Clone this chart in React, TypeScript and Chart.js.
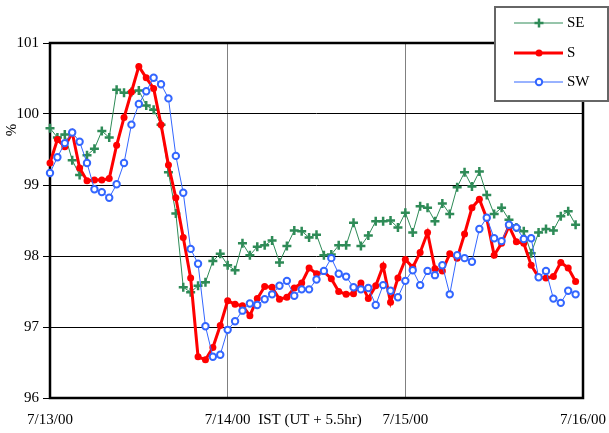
import { useEffect, useRef } from 'react';
import { Chart, registerables } from 'chart.js';

Chart.register(...registerables);

const DATE_LABELS = ['7/13/00', '7/14/00', '7/15/00', '7/16/00'];
const X_TITLE = 'IST (UT + 5.5hr)';
const Y_TITLE = '%';
const Y_TICKS = [96, 97, 98, 99, 100, 101];
const SERIES_NAMES = ['SE', 'S', 'SW'];

// hourly values, hour 0 = 7/13/00 00:00
const SE = [
  99.80, 99.67, 99.71, 99.35, 99.14, 99.42, 99.51, 99.76, 99.67, 100.34,
  100.30, 100.31, 100.33, 100.12, 100.06, 99.85, 99.18, 98.60, 97.56, 97.49,
  97.58, 97.63, 97.93, 98.03, 97.87, 97.80, 98.18, 98.01, 98.13, 98.15,
  98.22, 97.91, 98.14, 98.36, 98.35, 98.26, 98.30, 98.01, 98.02, 98.15,
  98.15, 98.47, 98.14, 98.29, 98.49, 98.49, 98.50, 98.40, 98.61, 98.33,
  98.70, 98.68, 98.49, 98.74, 98.59, 98.97, 99.18, 98.98, 99.19, 98.86,
  98.59, 98.68, 98.51, 98.40, 98.35, 98.04, 98.33, 98.38, 98.36, 98.56,
  98.63, 98.44,
];

const S = [
  99.31, 99.64, 99.54, 99.74, 99.24, 99.06, 99.07, 99.07, 99.09, 99.56,
  99.95, 100.31, 100.67, 100.51, 100.36, 99.85, 99.28, 98.82, 98.26, 97.69,
  96.58, 96.54, 96.71, 97.02, 97.37, 97.32, 97.30, 97.16, 97.40, 97.57,
  97.56, 97.39, 97.42, 97.55, 97.62, 97.83, 97.75, 97.78, 97.68, 97.50,
  97.46, 97.47, 97.62, 97.40, 97.58, 97.86, 97.35, 97.69, 97.95, 97.84,
  98.05, 98.33, 97.82, 97.79, 98.03, 97.97, 98.31, 98.68, 98.80, 98.53,
  98.01, 98.18, 98.42, 98.20, 98.18, 97.87, 97.70, 97.69, 97.71, 97.91,
  97.83, 97.64,
];

const SW = [
  99.17, 99.39, 99.59, 99.74, 99.61, 99.31, 98.94, 98.90, 98.82, 99.01,
  99.31, 99.85, 100.14, 100.32, 100.51, 100.42, 100.22, 99.41, 98.89, 98.10,
  97.89, 97.01, 96.58, 96.61, 96.96, 97.08, 97.23, 97.33, 97.31, 97.39,
  97.46, 97.58, 97.65, 97.44, 97.53, 97.53, 97.67, 97.79, 97.97, 97.75,
  97.71, 97.56, 97.53, 97.55, 97.31, 97.59, 97.51, 97.42, 97.65, 97.80,
  97.59, 97.79, 97.73, 97.87, 97.46, 98.01, 97.97, 97.92, 98.38, 98.54,
  98.25, 98.21, 98.44, 98.40, 98.24, 98.25, 97.70, 97.79, 97.40, 97.34,
  97.51, 97.46,
];

const GREEN = '#2E8B57';
const RED = '#FF0000';
const BLUE = '#3366FF';
const FONT_FAMILY = '"Liberation Serif", "Times New Roman", serif';

export default function App() {
  const ref = useRef<HTMLCanvasElement>(null);

  useEffect(() => {
    if (!ref.current) return;
    const toPts = (arr: number[]) => arr.map((y, i) => ({ x: i, y }));

    const framePlugin = {
      id: 'frame',
      beforeDatasetsDraw(chart: any) {
        const { ctx, chartArea: a } = chart;
        ctx.save();
        ctx.strokeStyle = '#000';
        ctx.lineWidth = 2.5;
        ctx.strokeRect(a.left, a.top, a.right - a.left, a.bottom - a.top);
        ctx.restore();
      },
      afterDraw(chart: any) {
        const { ctx } = chart;
        ctx.save();
        ctx.fillStyle = '#000';
        ctx.font = `15px ${FONT_FAMILY}`;
        ctx.textAlign = 'center';
        ctx.textBaseline = 'middle';
        ctx.fillText(X_TITLE, 310, 420);
        ctx.save();
        ctx.translate(12, 130);
        ctx.rotate(-Math.PI / 2);
        ctx.fillText(Y_TITLE, 0, 0);
        ctx.restore();

        // legend box
        const bx = 495, by = 7, bw = 113, bh = 94;
        ctx.fillStyle = '#fff';
        ctx.fillRect(bx, by, bw, bh);
        ctx.strokeStyle = '#666';
        ctx.lineWidth = 2;
        ctx.strokeRect(bx, by, bw, bh);
        const rows = [23, 53, 82];
        const colors = [GREEN, RED, BLUE];
        const widths = [1, 3, 1];
        rows.forEach((y, i) => {
          ctx.strokeStyle = colors[i];
          ctx.lineWidth = widths[i];
          ctx.beginPath();
          ctx.moveTo(514, y);
          ctx.lineTo(563, y);
          ctx.stroke();
          const mx = 539;
          if (i === 0) {
            ctx.lineWidth = 2.5;
            ctx.beginPath();
            ctx.moveTo(mx - 4.5, y);
            ctx.lineTo(mx + 4.5, y);
            ctx.moveTo(mx, y - 4.5);
            ctx.lineTo(mx, y + 4.5);
            ctx.stroke();
          } else if (i === 1) {
            ctx.fillStyle = RED;
            ctx.beginPath();
            ctx.arc(mx, y, 3.5, 0, Math.PI * 2);
            ctx.fill();
          } else {
            ctx.fillStyle = '#fff';
            ctx.lineWidth = 2;
            ctx.beginPath();
            ctx.arc(mx, y, 3.2, 0, Math.PI * 2);
            ctx.fill();
            ctx.stroke();
          }
          ctx.fillStyle = '#000';
          ctx.textAlign = 'left';
          ctx.textBaseline = 'middle';
          ctx.fillText(SERIES_NAMES[i], 567, y);
        });
        ctx.restore();
      },
    };

    const chart = new Chart(ref.current, {
      type: 'line',
      data: {
        datasets: [
          {
            label: SERIES_NAMES[0],
            data: toPts(SE),
            borderColor: GREEN,
            borderWidth: 1,
            pointStyle: 'cross',
            pointRadius: 4.5,
            pointBorderWidth: 2.5,
            pointBorderColor: GREEN,
            pointBackgroundColor: GREEN,
            order: 2,
            clip: false,
            tension: 0,
          },
          {
            label: SERIES_NAMES[1],
            data: toPts(S),
            borderColor: RED,
            borderWidth: 3,
            pointStyle: 'circle',
            pointRadius: 3.5,
            pointBorderWidth: 0,
            pointBackgroundColor: RED,
            pointBorderColor: RED,
            order: 1,
            clip: false,
            tension: 0,
          },
          {
            label: SERIES_NAMES[2],
            data: toPts(SW),
            borderColor: BLUE,
            borderWidth: 1,
            pointStyle: 'circle',
            pointRadius: 3.2,
            pointBorderWidth: 2,
            pointBackgroundColor: '#FFFFFF',
            pointBorderColor: BLUE,
            order: 0,
            clip: false,
            tension: 0,
          },
        ],
      } as any,
      options: {
        responsive: false,
        animation: false,
        devicePixelRatio: 1,
        layout: { padding: { top: 43, right: 26, left: 0, bottom: 0 } },
        plugins: { legend: { display: false }, tooltip: { enabled: false } },
        scales: {
          x: {
            type: 'linear',
            min: 0,
            max: 72,
            afterBuildTicks: (s: any) => {
              s.ticks = [0, 24, 48, 72].map((v) => ({ value: v }));
            },
            ticks: {
              callback: (v: any) => DATE_LABELS[Math.round(Number(v) / 24)],
              font: { family: FONT_FAMILY, size: 15 },
              color: '#000',
              padding: 13,
              maxRotation: 0,
              autoSkip: false,
            },
            grid: {
              color: (c: any) =>
                c.tick && (c.tick.value === 24 || c.tick.value === 48) ? '#808080' : 'rgba(0,0,0,0)',
              drawTicks: false,
              lineWidth: 1,
            },
            border: { display: false },
            afterFit: (s: any) => {
              s.height = 35;
              s.paddingLeft = 0;
              s.paddingRight = 0;
            },
          },
          y: {
            min: 96,
            max: 101,
            afterBuildTicks: (s: any) => {
              s.ticks = Y_TICKS.map((v) => ({ value: v }));
            },
            ticks: {
              font: { family: FONT_FAMILY, size: 15 },
              color: '#000',
              padding: 4,
            },
            grid: { color: '#000', lineWidth: 1, tickLength: 7 },
            border: { display: false },
            afterFit: (s: any) => {
              s.width = 50;
              s.paddingTop = 0;
              s.paddingBottom = 0;
            },
          },
        },
      } as any,
      plugins: [framePlugin],
    });
    return () => chart.destroy();
  }, []);

  return (
    <div style={{ position: 'absolute', left: 0, top: 0, width: 609, height: 433, background: '#fff' }}>
      <canvas ref={ref} width={609} height={433} style={{ display: 'block' }} />
    </div>
  );
}
